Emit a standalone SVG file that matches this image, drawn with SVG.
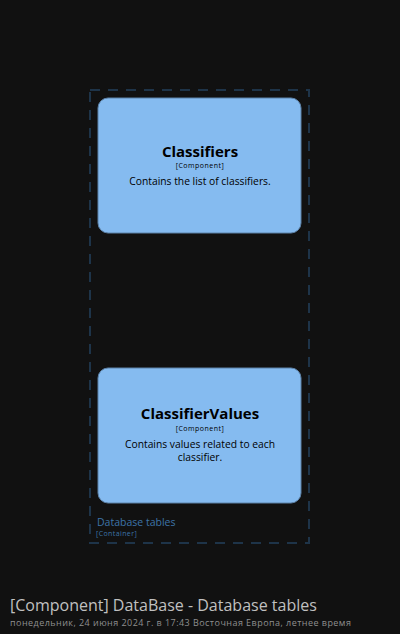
<svg xmlns="http://www.w3.org/2000/svg" width="400" height="634" viewBox="0 0 400 634">
<style>
.node{fill:#85bbf0;stroke:#5d82a8;stroke-width:1}
.t{font-family:"Open Sans","Liberation Sans",sans-serif;text-anchor:middle;fill:#000}
.title{font-size:15px;font-weight:bold}
.tag{font-size:7px;letter-spacing:0.5px}
.desc{font-size:10.3px}
.bnd{fill:none;stroke:#1e3449;stroke-width:2;stroke-dasharray:10,8}
</style>
<rect width="400" height="634" fill="#111111"/>
<g id="boundary">
<rect class="bnd" x="90" y="90" width="219" height="453"/>
<text x="97" y="526" font-family="Open Sans, Liberation Sans, sans-serif" font-size="10.5" fill="#3d74a8">Database tables</text>
<text x="96" y="536" font-family="Open Sans, Liberation Sans, sans-serif" font-size="7" letter-spacing="0.4" fill="#3d74a8">[Container]</text>
</g>
<g id="connectors"></g>
<g id="classifiers">
<rect class="node" x="98" y="98" width="203" height="135" rx="10"/>
<text class="t title" x="200" y="157">Classifiers</text>
<text class="t tag" x="200" y="168">[Component]</text>
<text class="t desc" x="200" y="185">Contains the list of classifiers.</text>
</g>
<g id="classifiervalues">
<rect class="node" x="98" y="368" width="203" height="135" rx="10"/>
<text class="t title" x="200" y="419">ClassifierValues</text>
<text class="t tag" x="200" y="431">[Component]</text>
<text class="t desc" x="200" y="448">Contains values related to each</text>
<text class="t desc" x="200" y="461">classifier.</text>
</g>
<g id="footer">
<text x="10" y="611" font-family="Open Sans, Liberation Sans, sans-serif" font-size="16" fill="#c0c0c0">[Component] DataBase - Database tables</text>
<text x="10" y="626" font-family="Open Sans, Liberation Sans, sans-serif" font-size="9" letter-spacing="0.45" fill="#8f8f8f">понедельник, 24 июня 2024 г. в 17:43 Восточная Европа, летнее время</text>
</g>
</svg>
